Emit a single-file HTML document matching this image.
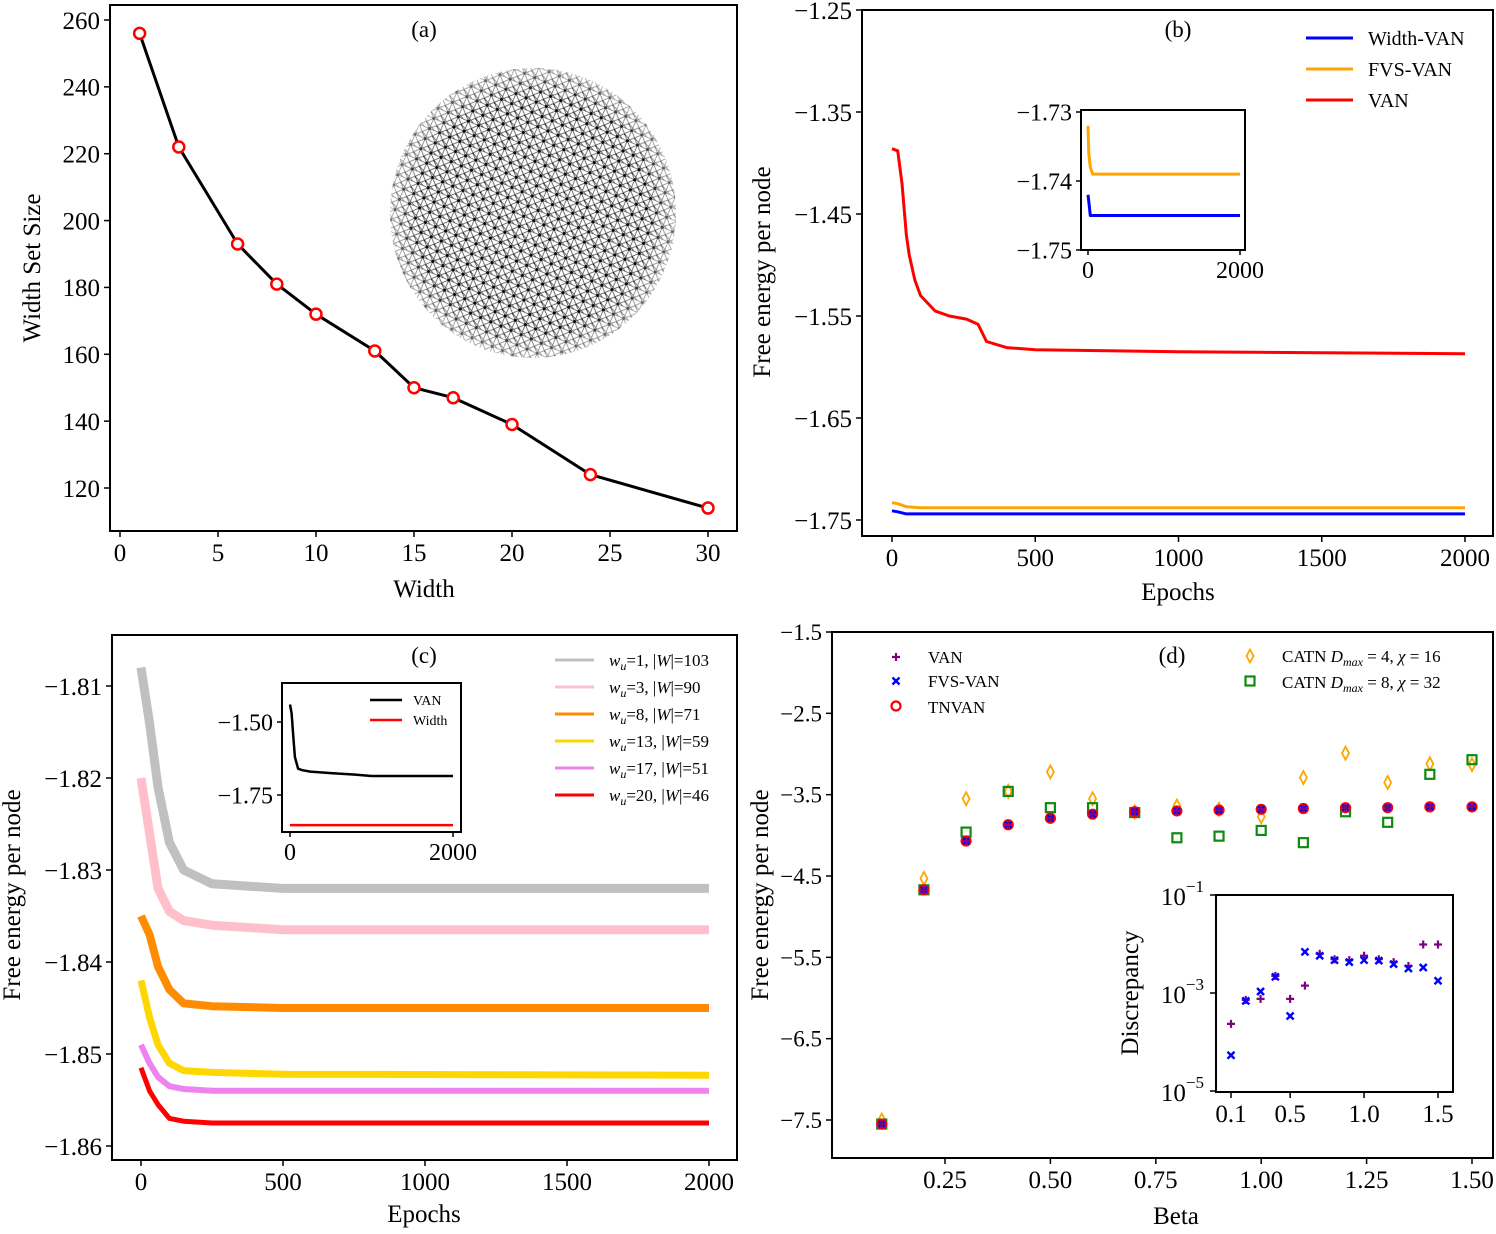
<!DOCTYPE html>
<html><head><meta charset="utf-8"><style>
html,body{margin:0;padding:0;background:#fff}
svg text{font-family:"Liberation Serif",serif;fill:#000}
</style></head><body>
<svg id="s" width="1496" height="1229" viewBox="0 0 1496 1229" xmlns="http://www.w3.org/2000/svg">
<defs>
<pattern id="net" width="11" height="11" patternUnits="userSpaceOnUse" patternTransform="rotate(23)">
<rect width="11" height="11" fill="#fff"/>
<path d="M0 0L11 11M11 0L0 11M5.5 0L5.5 11M0 5.5L11 5.5M0 0L11 5.5" stroke="#555" stroke-width="0.8"/>
<circle cx="5.5" cy="5.5" r="1.5" fill="#000"/><circle cx="0" cy="0" r="1.3" fill="#000"/>
</pattern>
<radialGradient id="fade"><stop offset="0.8" stop-color="#fff" stop-opacity="0"/><stop offset="1" stop-color="#fff" stop-opacity="0.5"/></radialGradient>
</defs>
</svg>
<script>
// ---------- data ----------
const aWidth=[1,3,6,8,10,13,15,17,20,24,30];
const aSize=[256,222,193,181,172,161,150,147,139,124,114];

const bEpochVAN=[0,20,35,50,60,80,100,150,200,260,300,330,400,500,1000,1500,2000];
const bVAN=[-1.386,-1.388,-1.42,-1.47,-1.49,-1.515,-1.53,-1.545,-1.55,-1.553,-1.558,-1.575,-1.581,-1.583,-1.585,-1.586,-1.587];
const bEpochSmall=[0,20,50,100,2000];
const bWidth=[-1.741,-1.742,-1.744,-1.744,-1.744];
const bFVS=[-1.733,-1.734,-1.737,-1.738,-1.738];
const bInsEpoch=[0,10,30,60,100,2000];
const bInsWidth=[-1.742,-1.743,-1.745,-1.745,-1.745,-1.745];
const bInsFVS=[-1.732,-1.736,-1.738,-1.739,-1.739,-1.739];

const cEpoch=[0,30,60,100,150,250,500,2000];
const cGray=[-1.808,-1.814,-1.821,-1.827,-1.830,-1.8315,-1.832,-1.832];
const cPink=[-1.820,-1.826,-1.832,-1.8345,-1.8355,-1.836,-1.8365,-1.8365];
const cOrange=[-1.835,-1.837,-1.8405,-1.843,-1.8445,-1.8448,-1.845,-1.845];
const cYellow=[-1.842,-1.846,-1.849,-1.851,-1.8518,-1.852,-1.8522,-1.8523];
const cViolet=[-1.849,-1.851,-1.8525,-1.8535,-1.8538,-1.854,-1.854,-1.854];
const cRed=[-1.8515,-1.854,-1.8555,-1.857,-1.8573,-1.8575,-1.8575,-1.8575];
const cInsEpoch=[0,20,40,60,100,150,250,500,800,1000,2000];
const cInsVAN=[-1.44,-1.47,-1.55,-1.62,-1.66,-1.665,-1.67,-1.675,-1.68,-1.685,-1.685];
const cInsWidth=[-1.853,-1.853,-1.853,-1.853,-1.853,-1.853,-1.853,-1.853,-1.853,-1.853,-1.853];

const dBeta=[0.1,0.2,0.3,0.4,0.5,0.6,0.7,0.8,0.9,1.0,1.1,1.2,1.3,1.4,1.5];
const dVAN=[-7.55,-4.67,-4.07,-3.87,-3.79,-3.74,-3.71,-3.70,-3.69,-3.68,-3.67,-3.66,-3.66,-3.65,-3.65];
const dCATN1=[-7.5,-4.53,-3.55,-3.46,-3.22,-3.55,-3.71,-3.64,-3.68,-3.77,-3.29,-2.99,-3.35,-3.12,-3.13];
const dCATN2=[-7.55,-4.67,-3.96,-3.46,-3.66,-3.66,-3.72,-4.03,-4.01,-3.94,-4.09,-3.71,-3.84,-3.25,-3.07];
const dDiscVAN=[-3.63,-3.14,-3.12,-2.65,-3.12,-2.85,-2.20,-2.31,-2.33,-2.24,-2.31,-2.37,-2.45,-2.01,-2.01];
const dDiscFVS=[-4.27,-3.16,-2.97,-2.67,-3.47,-2.16,-2.24,-2.33,-2.37,-2.33,-2.34,-2.41,-2.50,-2.48,-2.75];

// ---------- helpers ----------
const S=document.getElementById('s');const NS='http://www.w3.org/2000/svg';
function el(tag,attrs,parent){const e=document.createElementNS(NS,tag);for(const k in attrs)e.setAttribute(k,attrs[k]);(parent||S).appendChild(e);return e;}
function txt(x,y,t,size,anchor,extra){const e=el('text',Object.assign({x:x,y:y,'font-size':size,'text-anchor':anchor||'middle'},extra||{}));e.textContent=t;return e;}
function lin(d0,d1,r0,r1){return v=>r0+(v-d0)*(r1-r0)/(d1-d0);}
function box(x0,y0,x1,y1,name){const r=el('rect',{x:x0,y:y0,width:x1-x0,height:y1-y0,fill:'none',stroke:'#000','stroke-width':2});}
function xticks(vals,labels,sx,y,size,len){vals.forEach((v,i)=>{el('line',{x1:sx(v),x2:sx(v),y1:y,y2:y+len,stroke:'#000','stroke-width':1.5});const t=txt(sx(v),y+len+size*0.95,labels[i],size);});}
function yticks(vals,labels,sy,x,size,len){vals.forEach((v,i)=>{el('line',{x1:x-len,x2:x,y1:sy(v),y2:sy(v),stroke:'#000','stroke-width':1.5});const t=txt(x-len-4,sy(v)+size*0.35,labels[i],size,'end');});}
function path(xs,ys,sx,sy,color,w,name){const d=xs.map((v,i)=>(i?'L':'M')+sx(v).toFixed(1)+' '+sy(ys[i]).toFixed(1)).join('');const p=el('path',{d:d,fill:'none',stroke:color,'stroke-width':w,'stroke-linejoin':'round'});return p;}
function ytitle(x,y,t,size,name){const e=txt(x,y,t,size,'middle',{transform:`rotate(-90 ${x} ${y})`});}
const M='−';

// ---------- panel a ----------
(function(){
 const sx=lin(0,30,120,708), sy=lin(120,260,488,20);
 const g=el('ellipse',{cx:533,cy:213,rx:143,ry:145,fill:'url(#net)'});
 
 el('ellipse',{cx:533,cy:213,rx:145,ry:147,fill:'url(#fade)'});
 box(110,5,737,531,'panel-a-axes');
 xticks([0,5,10,15,20,25,30],['0','5','10','15','20','25','30'],sx,531,25,6);
 yticks([120,140,160,180,200,220,240,260],['120','140','160','180','200','220','240','260'],sy,110,25,6);
 let t=txt(424,597,'Width',25);
 ytitle(40,268,'Width Set Size',25,'y-axis-title');
 t=txt(424,37,'(a)',23);
 path(aWidth,aSize,sx,sy,'#000',3,'width-set-size-line');
 aWidth.forEach((w,i)=>{const c=el('circle',{cx:sx(w),cy:sy(aSize[i]),r:5.5,fill:'#fff',stroke:'#f00','stroke-width':2.5});});
})();

// ---------- panel b ----------
(function(){
 const sx=lin(0,2000,892,1465), sy=lin(-1.25,-1.75,10,520);
 box(862,10,1493,536,'panel-b-axes');
 xticks([0,500,1000,1500,2000],['0','500','1000','1500','2000'],sx,536,25,6);
 yticks([-1.25,-1.35,-1.45,-1.55,-1.65,-1.75],[M+'1.25',M+'1.35',M+'1.45',M+'1.55',M+'1.65',M+'1.75'],sy,862,25,6);
 let t=txt(1178,600,'Epochs',25);
 ytitle(770,272,'Free energy per node',25,'y-axis-title');
 t=txt(1178,37,'(b)',23);
 path(bEpochVAN,bVAN,sx,sy,'#f00',3,'van-line');
 path(bEpochSmall,bFVS,sx,sy,'#ffa500',3,'fvs-van-line');
 path(bEpochSmall,bWidth,sx,sy,'#00f',3,'width-van-line');
 const leg=[['Width-VAN','#00f'],['FVS-VAN','#ffa500'],['VAN','#f00']];
 leg.forEach((l,i)=>{const y=38+i*31;const g=el('g',{});
  el('line',{x1:1306,x2:1353,y1:y,y2:y,stroke:l[1],'stroke-width':3},g);const tt=txt(1368,y+7,l[0],20,'start');g.appendChild(tt);});
 const ix=lin(0,2000,1088,1240), iy=lin(-1.73,-1.75,112,250);
 el('rect',{x:1081,y:110,width:164,height:140,fill:'#fff'});
 box(1081,110,1245,250,'panel-b-inset-axes');
 xticks([0,2000],['0','2000'],ix,250,24,5);
 yticks([-1.73,-1.74,-1.75],[M+'1.73',M+'1.74',M+'1.75'],iy,1081,24,5);
 path(bInsEpoch,bInsFVS,ix,iy,'#ffa500',3,'inset-fvs-van-line');
 path(bInsEpoch,bInsWidth,ix,iy,'#00f',3,'inset-width-van-line');
})();

// ---------- panel c ----------
(function(){
 const sx=lin(0,2000,141,709), sy=lin(-1.81,-1.86,686,1146);
 box(112,635,737,1160,'panel-c-axes');
 xticks([0,500,1000,1500,2000],['0','500','1000','1500','2000'],sx,1160,25,6);
 yticks([-1.81,-1.82,-1.83,-1.84,-1.85,-1.86],[M+'1.81',M+'1.82',M+'1.83',M+'1.84',M+'1.85',M+'1.86'],sy,112,25,6);
 let t=txt(424,1222,'Epochs',25);
 ytitle(20,895,'Free energy per node',25,'y-axis-title');
 t=txt(424,663,'(c)',23);
 const series=[[cGray,'#c0c0c0',9],[cPink,'#ffc0cb',9],[cOrange,'#ff8c00',8],[cYellow,'#ffd700',7],[cViolet,'#ee82ee',6],[cRed,'#ff0000',5]];
 const names=['wu1-line','wu3-line','wu8-line','wu13-line','wu17-line','wu20-line'];
 series.forEach((s,i)=>path(cEpoch,s[0],sx,sy,s[1],s[2],names[i]));
 const leg=[['1','103'],['3','90'],['8','71'],['13','59'],['17','51'],['20','46']];
 leg.forEach((l,i)=>{const y=660+i*27;const g=el('g',{});
  el('line',{x1:555,x2:594,y1:y,y2:y,stroke:series[i][1],'stroke-width':3},g);
  const tt=el('text',{x:609,y:y+6,'font-size':17},g);
  const a=el('tspan',{'font-style':'italic'},tt);a.textContent='w';const b=el('tspan',{'font-style':'italic','font-size':12,dy:4},tt);b.textContent='u';
  const c=el('tspan',{dy:-4},tt);c.textContent='='+l[0]+', |';const d=el('tspan',{'font-style':'italic'},tt);d.textContent='W';const e=el('tspan',{},tt);e.textContent='|='+l[1];});
 const ix=lin(0,2000,290,453), iy=lin(-1.50,-1.75,722,795);
 el('rect',{x:282,y:683,width:179,height:149,fill:'#fff'});
 box(282,683,461,832,'panel-c-inset-axes');
 xticks([0,2000],['0','2000'],ix,832,24,5);
 yticks([-1.50,-1.75],[M+'1.50',M+'1.75'],iy,282,24,5);
 path(cInsEpoch,cInsVAN,ix,iy,'#000',2.5,'inset-van-line');
 path(cInsEpoch,cInsWidth,ix,iy,'#f00',2.5,'inset-width-line');
 [['VAN','#000',700],['Width','#f00',720]].forEach(l=>{const g=el('g',{});
  el('line',{x1:370,x2:402,y1:l[2],y2:l[2],stroke:l[1],'stroke-width':2.5},g);g.appendChild(txt(413,l[2]+5,l[0],14,'start'));});
})();

// ---------- panel d ----------
function marker(type,x,y,color,sz){
 const g=el('g',{});
 if(type==='plus'){el('path',{d:`M${x-sz} ${y}H${x+sz}M${x} ${y-sz}V${y+sz}`,stroke:color,'stroke-width':2.2},g);}
 else if(type==='cross'){el('path',{d:`M${x-sz} ${y-sz}L${x+sz} ${y+sz}M${x+sz} ${y-sz}L${x-sz} ${y+sz}`,stroke:color,'stroke-width':2.4},g);}
 else if(type==='circle'){el('circle',{cx:x,cy:y,r:sz,fill:'none',stroke:color,'stroke-width':2.2},g);}
 else if(type==='diamond'){el('path',{d:`M${x} ${y-sz*1.3}L${x+sz*0.7} ${y}L${x} ${y+sz*1.3}L${x-sz*0.7} ${y}Z`,fill:'none',stroke:color,'stroke-width':1.8},g);}
 else if(type==='square'){el('rect',{x:x-sz,y:y-sz,width:2*sz,height:2*sz,fill:'none',stroke:color,'stroke-width':2.2},g);}
}
(function(){
 const sx=lin(0.25,1.5,945,1472), sy=lin(-1.5,-7.5,632,1120);
 box(832,632,1493,1158,'panel-d-axes');
 xticks([0.25,0.5,0.75,1.0,1.25,1.5],['0.25','0.50','0.75','1.00','1.25','1.50'],sx,1158,25,6);
 yticks([-1.5,-2.5,-3.5,-4.5,-5.5,-6.5,-7.5],[M+'1.5',M+'2.5',M+'3.5',M+'4.5',M+'5.5',M+'6.5',M+'7.5'],sy,832,23,6);
 let t=txt(1176,1224,'Beta',25);
 ytitle(768,895,'Free energy per node',25,'y-axis-title');
 t=txt(1172,663,'(d)',23);
 dBeta.forEach((b,i)=>{
  marker('diamond',sx(b),sy(dCATN1[i]),'#ffa500',5);
  marker('square',sx(b),sy(dCATN2[i]),'#108a10',4.5);
  marker('circle',sx(b),sy(dVAN[i]),'#f00',4.5);
  marker('cross',sx(b),sy(dVAN[i]),'#00f',3);
  marker('plus',sx(b),sy(dVAN[i]),'#800080',4);
 });
 marker('plus',896,657,'#800080',4);txt(928,663,'VAN',17,'start');
 marker('cross',896,681,'#00f',3.5);txt(928,687,'FVS-VAN',17,'start');
 marker('circle',896,706,'#f00',4.5);txt(928,713,'TNVAN',17,'start');
 marker('diamond',1250,656,'#ffa500',5);
 marker('square',1250,681,'#108a10',4.5);
 [[662,'4','16'],[688,'8','32']].forEach(r=>{const tt=el('text',{x:1282,y:r[0],'font-size':17});
  const a=el('tspan',{},tt);a.textContent='CATN  ';const b=el('tspan',{'font-style':'italic'},tt);b.textContent='D';
  const c=el('tspan',{'font-style':'italic','font-size':12,dy:4},tt);c.textContent='max';const d=el('tspan',{dy:-4},tt);d.textContent=' = '+r[1]+', ';
  const e=el('tspan',{'font-style':'italic'},tt);e.textContent='χ';const f=el('tspan',{},tt);f.textContent=' = '+r[2];});
 const ix=lin(0.1,1.5,1231,1438), iy=lin(-1,-5,895,1091);
 box(1216,895,1453,1092,'panel-d-inset-axes');
 [[-1,'−1'],[-3,'−3'],[-5,'−5']].forEach(v=>{const y=iy(v[0]);el('line',{x1:1210,x2:1216,y1:y,y2:y,stroke:'#000','stroke-width':1.5});
  const tt=el('text',{x:1204,y:y+10,'font-size':25,'text-anchor':'end'});
  const a=el('tspan',{},tt);a.textContent='10';const b=el('tspan',{'font-size':17,dy:-13},tt);b.textContent=v[1];});
 xticks([0.1,0.5,1.0,1.5],['0.1','0.5','1.0','1.5'],ix,1092,25,6);
 ytitle(1138,993,'Discrepancy',25,'inset-y-axis-title');
 dBeta.forEach((b,i)=>{marker('plus',ix(b),iy(dDiscVAN[i]),'#800080',4);marker('cross',ix(b),iy(dDiscFVS[i]),'#00f',3.5);});
})();
</script>
</body></html>
